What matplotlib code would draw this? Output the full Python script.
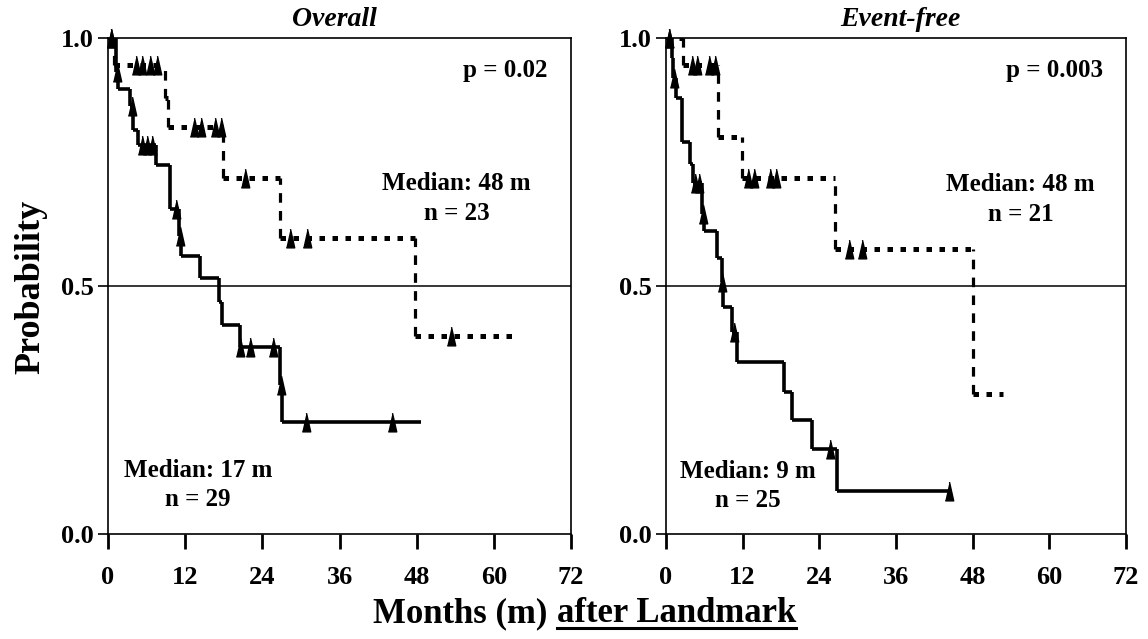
import numpy as np
import matplotlib
matplotlib.use("Agg")
import matplotlib.pyplot as plt
from matplotlib.lines import Line2D

plt.rcParams["font.family"] = ["Liberation Serif", "DejaVu Serif"]
plt.rcParams["font.weight"] = "bold"

# Overall survival, poor group (solid)
os_poor_t = [0, 1.2, 1.6, 3.4, 3.9, 4.6, 7.4, 9.7, 11.0, 11.3, 14.3, 17.2, 17.7, 20.6, 26.7, 27.0]
os_poor_s = [1.0, 0.931, 0.898, 0.862, 0.815, 0.785, 0.744, 0.655, 0.60, 0.56, 0.517, 0.468, 0.421, 0.378, 0.30, 0.226]
os_poor_end = 48.6
os_poor_cens = [0.4, 1.4, 3.7, 5.3, 6.1, 6.9, 10.5, 11.15, 20.6, 22.1, 25.7, 26.85, 30.8, 44.2]

# Overall survival, good group (dashed)
os_good_t = [0, 1.0, 8.9, 9.3, 17.9, 26.8, 47.8]
os_good_s = [1.0, 0.945, 0.88, 0.82, 0.717, 0.596, 0.40]
os_good_end = 63.4
os_good_cens = [0.4, 4.3, 5.3, 6.6, 7.6, 13.3, 14.5, 16.6, 17.6, 21.3, 28.3, 30.9, 53.3]

# Event-free survival, poor group (solid)
efs_poor_t = [0, 0.9, 1.1, 1.5, 2.5, 3.8, 4.3, 5.6, 6.0, 7.95, 8.7, 8.9, 10.3, 11.1, 18.4, 19.7, 22.9, 26.8]
efs_poor_s = [1.0, 0.96, 0.92, 0.88, 0.79, 0.745, 0.707, 0.645, 0.611, 0.557, 0.508, 0.457, 0.408, 0.347,
              0.287, 0.229, 0.171, 0.087]
efs_poor_end = 44.3
efs_poor_cens = [0.4, 1.3, 4.6, 5.1, 5.8, 8.8, 10.6, 25.7, 44.3]

# Event-free survival, good group (dashed)
efs_good_t = [0, 2.7, 8.2, 11.9, 26.5, 48.0]
efs_good_s = [1.0, 0.945, 0.80, 0.718, 0.574, 0.283]
efs_good_end = 52.7
efs_good_cens = [0.4, 4.1, 4.9, 6.8, 7.6, 12.9, 13.8, 16.3, 17.3, 28.6, 30.7]

panels = [
    dict(title="Overall", p="p = 0.02",
         curves=[(os_poor_t, os_poor_s, os_poor_end, os_poor_cens, "solid"),
                 (os_good_t, os_good_s, os_good_end, os_good_cens, "dashed")],
         good_txt=("Median: 48 m", "n = 23", 54.2, 0.707, 0.647),
         poor_txt=("Median: 17 m", "n = 29", 14.0, 0.129, 0.069)),
    dict(title="Event-free", p="p = 0.003",
         curves=[(efs_poor_t, efs_poor_s, efs_poor_end, efs_poor_cens, "solid"),
                 (efs_good_t, efs_good_s, efs_good_end, efs_good_cens, "dashed")],
         good_txt=("Median: 48 m", "n = 21", 55.5, 0.705, 0.645),
         poor_txt=("Median: 9 m", "n = 25", 12.8, 0.127, 0.067)),
]

tri = [(-0.45, -1), (0.45, -1), (0, 1)]


def level_at(t, s, x):
    t = np.asarray(t)
    s = np.asarray(s)
    idx = np.searchsorted(t, x, side="right") - 1
    return s[idx]


fig = plt.figure(figsize=(11.48, 6.39), dpi=100)
ax1 = fig.add_axes([0.0941, 0.1643, 0.4033, 0.7762])
ax2 = fig.add_axes([0.5801, 0.1643, 0.4007, 0.7762])

for ax, pan in zip([ax1, ax2], panels):
    ax.axhline(0.5, color="black", lw=1.1, zorder=1)
    for t, s, end, cens, style in pan["curves"]:
        t_next = list(t[1:]) + [end]
        if style == "solid":
            ax.hlines(s, t, t_next, color="black", lw=2.6, zorder=3)
            ax.vlines(t[1:], s[1:], s[:-1], color="black", lw=2.6, zorder=3)
        else:
            ax.hlines(s, t, t_next, color="black", lw=3.6, linestyles=(0, (1.1, 1.5)), zorder=3)
            ax.vlines(t[1:], s[1:], s[:-1], color="black", lw=2.3, linestyles=(0, (3.0, 2.6)), zorder=3)
        cy = level_at(t, s, cens)
        ax.plot(cens, cy, linestyle="none", marker=tri, markersize=13.5, color="black",
                clip_on=False, zorder=4)

    ax.set_xlim(0, 72)
    ax.set_ylim(0, 1)
    ax.set_xticks(np.arange(0, 73, 12))
    ax.set_yticks([0, 0.5, 1.0])
    ax.set_yticklabels(["0.0", "0.5", "1.0"])
    for sp in ax.spines.values():
        sp.set_linewidth(1.2)
    ax.tick_params(axis="x", direction="out", length=11, width=2.0, labelsize=19, pad=12)
    ax.tick_params(axis="y", direction="out", length=7, width=1.2, labelsize=19, pad=3)
    for lab in ax.get_xticklabels() + ax.get_yticklabels():
        lab.set_fontweight("bold")

    ax.text(0.49 if ax is ax1 else 0.509, 1.012, pan["title"], transform=ax.transAxes,
            ha="center", va="bottom", fontsize=20, fontstyle="italic", fontweight="bold")
    ax.text(68.4, 0.935, pan["p"], ha="right", va="center", fontsize=18, fontweight="bold")
    for m, n, x, y1, y2 in [pan["good_txt"], pan["poor_txt"]]:
        ax.text(x, y1, m, ha="center", va="center", fontsize=18, fontweight="bold")
        ax.text(x, y2, n, ha="center", va="center", fontsize=18, fontweight="bold")

fig.text(0.027, 0.551, "Probability", rotation=90, ha="center", va="center",
         fontsize=26, fontweight="bold")

xs = 552 / 1148
t1 = fig.text(xs - 0.0044, 0.0266, "Months (m)", ha="right", va="baseline", fontsize=25, fontweight="bold")
t2 = fig.text(xs + 0.0044, 0.0266, "after Landmark", ha="left", va="baseline", fontsize=25, fontweight="bold")

fig.canvas.draw()
bb = t2.get_window_extent()
inv = fig.transFigure.inverted()
(x0, _), (x1, _) = inv.transform([(bb.x0, 0), (bb.x1, 0)])
fig.add_artist(Line2D([x0, x1], [0.0172, 0.0172], transform=fig.transFigure, color="black", lw=2.2))

fig.savefig("out.png", dpi=100)
